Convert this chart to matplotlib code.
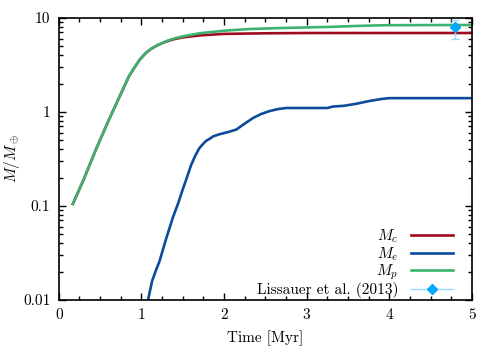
import numpy as np
import matplotlib
matplotlib.use("Agg")
import matplotlib.pyplot as plt
import matplotlib.ticker as ticker
from matplotlib.lines import Line2D

plt.rcParams['font.family'] = 'serif'
plt.rcParams['font.serif'] = ['cmr10']
plt.rcParams['mathtext.fontset'] = 'cm'
plt.rcParams['axes.formatter.use_mathtext'] = True
plt.rcParams['font.size'] = 11

# core mass
tc = [0.17, 0.3, 0.45, 0.6, 0.75, 0.85, 0.92, 0.98, 1.05, 1.12, 1.2, 1.3, 1.4, 1.5, 1.7, 2.0, 2.5, 3.0, 4.0, 5.0]
mc = [0.105, 0.19, 0.40, 0.80, 1.55, 2.4, 3.0, 3.6, 4.2, 4.7, 5.15, 5.6, 5.95, 6.2, 6.5, 6.75, 6.85, 6.9, 6.9, 6.9]

# envelope mass
te = [1.08, 1.13, 1.17, 1.22, 1.3, 1.38, 1.45, 1.5, 1.55, 1.6, 1.65, 1.7, 1.74, 1.78, 1.83, 1.87, 1.95,
      2.05, 2.15, 2.25, 2.35, 2.45, 2.55, 2.65, 2.75, 3.0, 3.25, 3.32, 3.45, 3.6, 3.75, 3.9, 4.0, 5.0]
me = [0.01, 0.016, 0.02, 0.026, 0.045, 0.075, 0.11, 0.15, 0.2, 0.27, 0.34, 0.41, 0.45, 0.49, 0.52, 0.55, 0.58,
      0.61, 0.65, 0.75, 0.86, 0.95, 1.02, 1.07, 1.1, 1.1, 1.1, 1.14, 1.16, 1.22, 1.3, 1.37, 1.4, 1.4]

# planet mass
tp = [0.17, 0.3, 0.45, 0.6, 0.75, 0.85, 0.92, 0.98, 1.05, 1.12, 1.2, 1.3, 1.4, 1.5, 1.7, 2.0, 2.3, 2.7, 3.25, 3.6, 3.95, 5.0]
mp = [0.105, 0.19, 0.40, 0.80, 1.55, 2.4, 3.0, 3.6, 4.2, 4.7, 5.15, 5.65, 6.05, 6.35, 6.85, 7.3, 7.6, 7.8, 8.0, 8.2, 8.35, 8.4]

# Lissauer et al. (2013)
t_obs = [4.8]
m_obs = [8.0]
m_err_lo = [2.1]
m_err_hi = [1.5]

red = '#9e0a1e'
blue = '#0c4a9a'
green = '#3cb371'

fig = plt.figure(figsize=(4.86, 3.5), dpi=100)
ax = fig.add_axes([0.121, 0.143, 0.850, 0.806])

ax.plot(tc, mc, color=red, lw=1.9, label=r'$M_c$')
ax.plot(te, me, color=blue, lw=1.9, label=r'$M_e$')
ax.plot(tp, mp, color=green, lw=1.9, label=r'$M_p$')
ax.errorbar(t_obs, m_obs, yerr=[m_err_lo, m_err_hi], fmt='D', color='#00a8ff', ms=5,
            ecolor='#9ad8ff', elinewidth=1, capsize=3)

ax.set_yscale('log')
ax.set_xlim(0, 5)
ax.set_ylim(0.01, 10)
ax.yaxis.set_major_locator(ticker.FixedLocator([0.01, 0.1, 1, 10]))
ax.yaxis.set_major_formatter(ticker.FixedFormatter(['0.01', '0.1', '1', '10']))
ax.yaxis.set_minor_locator(ticker.LogLocator(base=10, subs=np.arange(2, 10)))
ax.yaxis.set_minor_formatter(ticker.NullFormatter())
ax.xaxis.set_major_locator(ticker.MultipleLocator(1))
ax.xaxis.set_major_formatter(ticker.FormatStrFormatter('%d'))
ax.xaxis.set_minor_locator(ticker.MultipleLocator(0.25))
ax.tick_params(which='both', direction='in', top=True, right=True, width=1)
ax.tick_params(which='major', length=5, labelsize=11, pad=6)
ax.tick_params(which='minor', length=3)
for s in ax.spines.values():
    s.set_linewidth(1.2)

ax.set_xlabel('Time [Myr]', labelpad=6)
ax.set_ylabel(r'$M/M_\oplus$', labelpad=1)

obs_proxy = Line2D([], [], color='#9ad8ff', lw=1, marker='D', ms=5,
                   mfc='#00a8ff', mec='#00a8ff')
handles, labels = ax.get_legend_handles_labels()
handles = handles[:3] + [obs_proxy]
labels = labels[:3] + ['Lissauer et al. (2013)']
ax.legend(handles, labels, loc='lower right', bbox_to_anchor=(0.981, -0.032),
          frameon=False, markerfirst=False,
          handlelength=2.8, labelspacing=0.0, borderaxespad=0.3, handletextpad=0.8)

fig.savefig('out.png', dpi=100)
